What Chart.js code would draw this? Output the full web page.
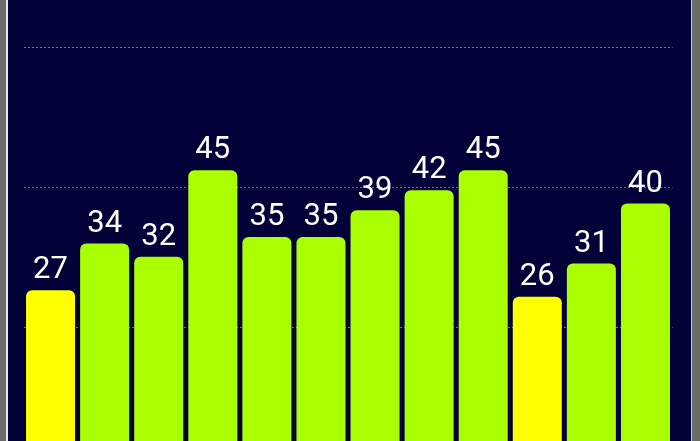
<!DOCTYPE html>
<html>
<head>
<meta charset="utf-8">
<script src="https://cdn.jsdelivr.net/npm/chart.js@4.4.1/dist/chart.umd.min.js"></script>
<style>
  html, body { margin: 0; padding: 0; background: #6b6b6b; overflow: hidden; }
  #wrap {
    position: absolute; left: 6px; top: 0;
    width: 683px; height: 441px;
    border-left: 2px solid #e8e8e8;
    border-right: 1px solid #c8c8d0;
    background: #020238;
  }
  canvas { display: block; }
</style>
</head>
<body>
<div id="wrap"><canvas id="myChart" width="683" height="441"></canvas></div>
<script>
// values
let categorias = ['1', '2', '3', '4', '5', '6', '7', '8', '9', '10', '11', '12'];
let valores = [27, 34, 32, 45, 35, 35, 39, 42, 45, 26, 31, 40];
let colores = ['#ffff00', '#aaff00', '#aaff00', '#aaff00', '#aaff00', '#aaff00',
               '#aaff00', '#aaff00', '#aaff00', '#ffff00', '#aaff00', '#aaff00'];
let lineas_grid = [21.4, 42.4, 63.5];

// draws the number above each bar
let etiquetas = {
    id: 'etiquetas',
    afterDatasetsDraw(chart) {
        let ctx = chart.ctx;
        let meta = chart.getDatasetMeta(0);
        ctx.save();
        ctx.fillStyle = '#ffffff';
        ctx.font = '31px Roboto';
        ctx.textAlign = 'center';
        ctx.textBaseline = 'alphabetic';
        meta.data.forEach(function (bar, i) {
            ctx.fillText(String(valores[i]), bar.x, bar.y - 12);
        });
        ctx.restore();
    }
};

let barras = document.getElementById('myChart').getContext('2d');
let mybar = new Chart(barras, {
    type: 'bar',
    data: {
        labels: categorias,
        datasets: [{
            data: valores,
            backgroundColor: colores,
            borderRadius: 6,
            borderSkipped: 'start',
            barPercentage: 0.906,
            categoryPercentage: 1
        }]
    },
    options: {
        responsive: false,
        animation: false,
        layout: { padding: { left: 15.5, right: 18.5, top: 0, bottom: 0 } },
        plugins: { legend: { display: false }, tooltip: { enabled: false } },
        scales: {
            x: { display: false },
            y: {
                min: 4.35,
                max: 70.57,
                ticks: { display: false },
                grid: {
                    color: 'rgba(200,200,235,0.55)',
                    lineWidth: 1,
                    drawTicks: false
                },
                border: { display: false, dash: [2, 2] },
                afterBuildTicks: function (axis) {
                    axis.ticks = lineas_grid.map(v => ({ value: v }));
                }
            }
        }
    },
    plugins: [etiquetas]
});
</script>
</body>
</html>
